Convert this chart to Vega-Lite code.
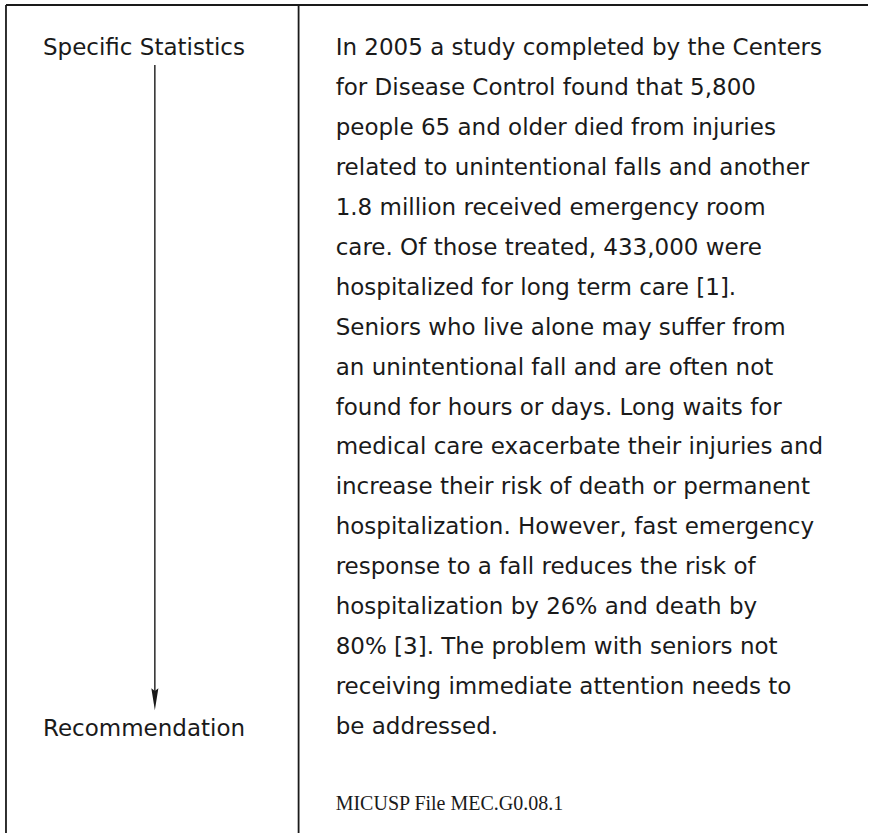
{
  "$schema": "https://vega.github.io/schema/vega-lite/v6.json",
  "width": 869,
  "height": 834,
  "autosize": {"type": "fit", "contains": "padding"},
  "padding": 0,
  "background": "white",
  "config": {"view": {"stroke": null}},
  "datasets": {
    "rules": [
      {"name": "top", "x": 0.69, "x2": 100, "line": -1.075, "line2": -1.075, "w": "border"},
      {"name": "left", "x": 0.69, "x2": 0.69, "line": -1.075, "line2": 19.65, "w": "border"},
      {"name": "divider", "x": 34.4, "x2": 34.4, "line": -1.075, "line2": 19.65, "w": "border"},
      {"name": "arrow", "x": 17.84, "x2": 17.84, "line": 0.43, "line2": 16.2, "w": "arrow"}
    ],
    "head": [{"x": 17.84, "line": 16.3}],
    "body": [
      {"col": "left", "x": 4.95, "line": 0, "text": "Specific Statistics"},
      {"col": "left", "x": 4.95, "line": 17.05, "text": "Recommendation"},
      {"col": "right", "x": 38.67, "line": 0, "text": "In 2005 a study completed by the Centers"},
      {"col": "right", "x": 38.67, "line": 1, "text": "for Disease Control found that 5,800"},
      {"col": "right", "x": 38.67, "line": 2, "text": "people 65 and older died from injuries"},
      {"col": "right", "x": 38.67, "line": 3, "text": "related to unintentional falls and another"},
      {"col": "right", "x": 38.67, "line": 4, "text": "1.8 million received emergency room"},
      {"col": "right", "x": 38.67, "line": 5, "text": "care. Of those treated, 433,000 were"},
      {"col": "right", "x": 38.67, "line": 6, "text": "hospitalized for long term care [1]."},
      {"col": "right", "x": 38.67, "line": 7, "text": "Seniors who live alone may suffer from"},
      {"col": "right", "x": 38.67, "line": 8, "text": "an unintentional fall and are often not"},
      {"col": "right", "x": 38.67, "line": 9, "text": "found for hours or days. Long waits for"},
      {"col": "right", "x": 38.67, "line": 10, "text": "medical care exacerbate their injuries and"},
      {"col": "right", "x": 38.67, "line": 11, "text": "increase their risk of death or permanent"},
      {"col": "right", "x": 38.67, "line": 12, "text": "hospitalization. However, fast emergency"},
      {"col": "right", "x": 38.67, "line": 13, "text": "response to a fall reduces the risk of"},
      {"col": "right", "x": 38.67, "line": 14, "text": "hospitalization by 26% and death by"},
      {"col": "right", "x": 38.67, "line": 15, "text": "80% [3]. The problem with seniors not"},
      {"col": "right", "x": 38.67, "line": 16, "text": "receiving immediate attention needs to"},
      {"col": "right", "x": 38.67, "line": 17, "text": "be addressed."}
    ],
    "footer": [{"x": 38.67, "line": 18.92, "text": "MICUSP File MEC.G0.08.1"}]
  },
  "layer": [
    {
      "data": {"name": "rules"},
      "mark": {"type": "rule", "color": "#1a1a1a"},
      "encoding": {
        "x": {"field": "x", "type": "quantitative", "scale": {"domain": [0, 100], "nice": false, "zero": false}, "axis": null},
        "x2": {"field": "x2"},
        "y": {"field": "line", "type": "quantitative", "scale": {"domain": [-1.2, 19.65], "reverse": true, "nice": false, "zero": false}, "axis": null},
        "y2": {"field": "line2"},
        "strokeWidth": {"field": "w", "type": "nominal", "scale": {"domain": ["border", "arrow"], "range": [1.8, 1.4]}, "legend": null}
      }
    },
    {
      "data": {"name": "head"},
      "mark": {"type": "point", "shape": "M-0.32,-1L0,-0.75L0.32,-1L0,1Z", "filled": true, "color": "#1a1a1a", "size": 484, "opacity": 1},
      "encoding": {
        "x": {"field": "x", "type": "quantitative"},
        "y": {"field": "line", "type": "quantitative"}
      }
    },
    {
      "data": {"name": "body"},
      "mark": {"type": "text", "align": "left", "baseline": "middle", "font": "DejaVu Sans", "fontSize": 23, "color": "#1a1a1a"},
      "encoding": {
        "x": {"field": "x", "type": "quantitative"},
        "y": {"field": "line", "type": "quantitative"},
        "text": {"field": "text"}
      }
    },
    {
      "data": {"name": "footer"},
      "mark": {"type": "text", "align": "left", "baseline": "middle", "font": "Liberation Serif", "fontSize": 20, "color": "#1a1a1a"},
      "encoding": {
        "x": {"field": "x", "type": "quantitative"},
        "y": {"field": "line", "type": "quantitative"},
        "text": {"field": "text"}
      }
    }
  ]
}
